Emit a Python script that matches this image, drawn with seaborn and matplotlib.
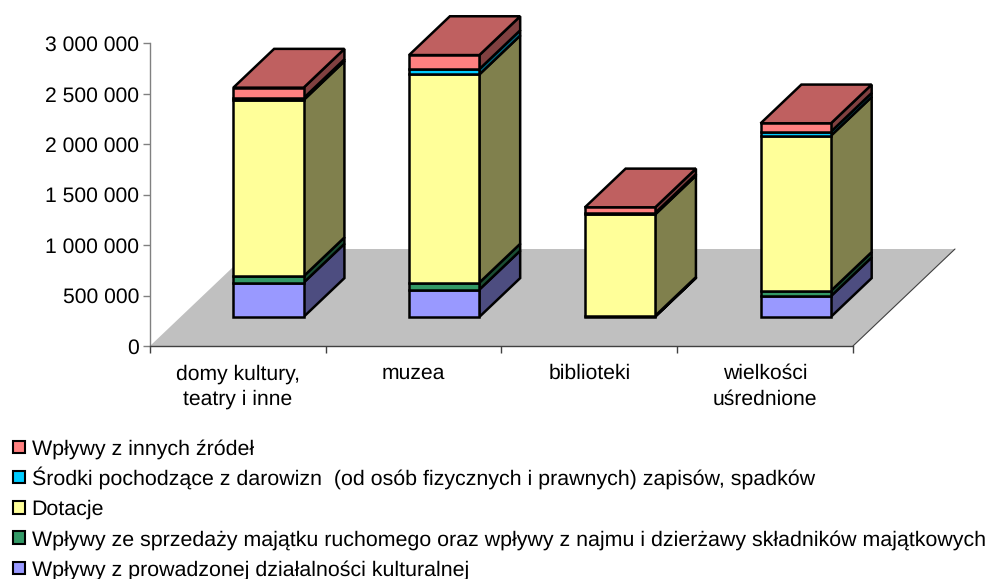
import numpy as np
import matplotlib
matplotlib.use("Agg")
import matplotlib.pyplot as plt
import seaborn as sns
from matplotlib.patches import Polygon, Rectangle
from matplotlib.transforms import Affine2D

categories = ["domy kultury,\nteatry i inne", "muzea", "biblioteki", "wielkości\nuśrednione"]

# values, bottom to top of the stack
kulturalna = [340000, 271000, 5000, 205000]
majatek = [63000, 69000, 5000, 53000]
dotacje = [1746000, 2063000, 1005000, 1537000]
darowizny = [20000, 53000, 15000, 40000]
inne = [103000, 139000, 55000, 83000]

series_names = [
    "Wpływy z prowadzonej działalności kulturalnej",
    "Wpływy ze sprzedaży majątku ruchomego oraz wpływy z najmu i dzierżawy składników majątkowych",
    "Dotacje",
    "Środki pochodzące z darowizn  (od osób fizycznych i prawnych) zapisów, spadków",
    "Wpływy z innych źródeł",
]
series_values = [kulturalna, majatek, dotacje, darowizny, inne]
front_colors = ["#9999FF", "#339966", "#FFFF99", "#00CCFF", "#FF8080"]
side_colors = ["#4D4D80", "#1A4D33", "#80804D", "#006680", "#804040"]
top_color = "#BF6060"

y_ticks = [0, 500000, 1000000, 1500000, 2000000, 2500000, 3000000]

sns.set_style("white")
plt.rcParams["font.family"] = ["Liberation Sans", "DejaVu Sans"]
plt.rcParams["text.hinting"] = "no_hinting"

W, H = 986, 579
fig = plt.figure(figsize=(W / 100, H / 100), dpi=100)
ax = fig.add_axes([150 / W, (H - 346) / H, 703 / W, 302.7 / H])

# oblique depth of the floor, in data units
depth_x = 102 / (703 / 4)
depth_y = 97 / 302.7 * 3000000
bar_width = 0.4
z_front, z_back = 0.3, 0.7
edge_lw = 1.8

# floor
floor = Polygon(
    [(-0.5, 0), (3.5, 0), (3.5 + depth_x, depth_y), (-0.5 + depth_x, depth_y)],
    facecolor="#C0C0C0", edgecolor="none", zorder=0, clip_on=False,
)
ax.add_patch(floor)
ax.plot([3.5, 3.5 + depth_x], [0, depth_y], color="#404040", lw=0.8, zorder=0.5, clip_on=False)

shift = Affine2D().translate(z_front * depth_x, z_front * depth_y) + ax.transData
bottoms = np.zeros(len(categories))
for vals, fc, sc in zip(series_values, front_colors, side_colors):
    sns.barplot(x=categories, y=vals, bottom=bottoms, color=fc, saturation=1, width=bar_width,
                edgecolor="black", linewidth=edge_lw, ax=ax, zorder=3, clip_on=False)
    for bar in ax.containers[-1]:
        bar.set_transform(shift)
        bar.set_joinstyle("miter")

    # side face of every block
    for i, (b, v) in enumerate(zip(bottoms, vals)):
        x1 = i + bar_width / 2
        ax.add_patch(Polygon(
            [(x1 + z_front * depth_x, b + z_front * depth_y),
             (x1 + z_back * depth_x, b + z_back * depth_y),
             (x1 + z_back * depth_x, b + v + z_back * depth_y),
             (x1 + z_front * depth_x, b + v + z_front * depth_y)],
            facecolor=sc, edgecolor="black", linewidth=edge_lw, zorder=2, clip_on=False))
    bottoms = bottoms + np.array(vals)

# top faces
for i, total in enumerate(bottoms):
    x0, x1 = i - bar_width / 2, i + bar_width / 2
    ax.add_patch(Polygon(
        [(x0 + z_front * depth_x, total + z_front * depth_y),
         (x1 + z_front * depth_x, total + z_front * depth_y),
         (x1 + z_back * depth_x, total + z_back * depth_y),
         (x0 + z_back * depth_x, total + z_back * depth_y)],
        facecolor=top_color, edgecolor="black", linewidth=edge_lw, zorder=2, clip_on=False))

ax.set_xlim(-0.5, 3.5)
ax.set_ylim(0, 3000000)
ax.set_yticks(y_ticks)
ax.set_yticklabels([f"{t:,}".replace(",", " ") for t in y_ticks], fontsize=15.2, color="black")
ax.set_xticks(np.arange(-0.5, 4, 1))
ax.set_xticklabels([])
ax.set_xticks(range(4), categories, minor=True, fontsize=15.2, color="black", linespacing=1.36)
ax.tick_params(axis="x", which="major", length=5, width=1, color="#404040", bottom=True)
ax.tick_params(axis="x", which="minor", length=0, pad=13, bottom=True)
ax.tick_params(axis="y", length=5, width=1, color="#808080", left=True, pad=3)
ax.set_xlabel("")
ax.set_ylabel("")
for side in ["top", "right"]:
    ax.spines[side].set_visible(False)
ax.spines["left"].set_color("#808080")
ax.spines["left"].set_linewidth(1)
ax.spines["bottom"].set_color("#404040")
ax.spines["bottom"].set_linewidth(1)
ax.spines["left"].set_zorder(1)
ax.patch.set_alpha(0)

# legend rows, top one first
legend_y = 447
legend_step = 30.3
for row, (name, c) in enumerate(zip(series_names[::-1], front_colors[::-1])):
    y = legend_y + row * legend_step
    fig.add_artist(Rectangle((12.5 / W, (H - y - 6) / H), 12.5 / W, 12.5 / H, transform=fig.transFigure,
                             facecolor=c, edgecolor="black", linewidth=1.5))
    fig.text(31.5 / W, (H - y - 7.3) / H, name, fontsize=15.36, va="baseline", ha="left", color="black")

fig.savefig("out.png", dpi=100)
